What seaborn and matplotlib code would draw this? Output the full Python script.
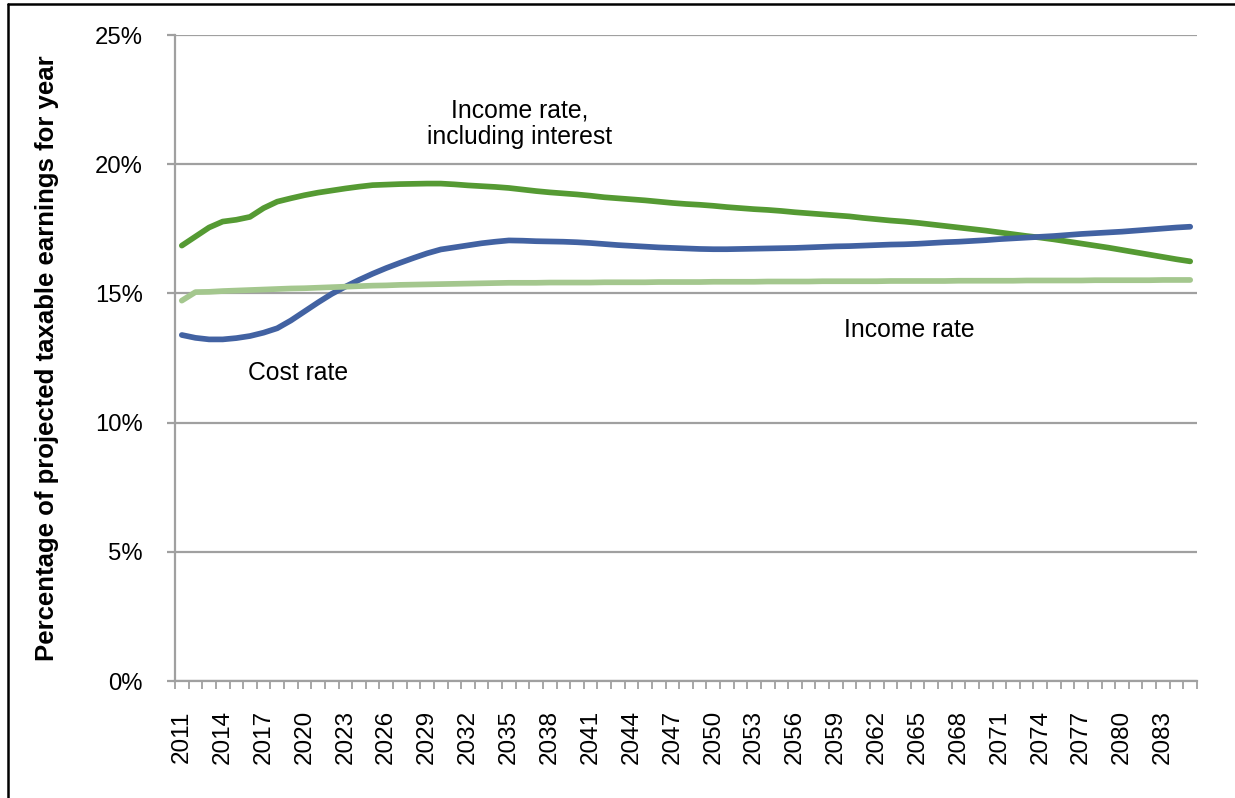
import matplotlib
matplotlib.use("Agg")
import matplotlib.pyplot as plt
from matplotlib.lines import Line2D
from matplotlib.ticker import FixedLocator, FuncFormatter
import seaborn as sns
import pandas as pd

years = list(range(2011, 2086))

income_incl_interest = [
    16.85, 17.20, 17.55, 17.78, 17.85, 17.96, 18.30, 18.55, 18.68, 18.80,
    18.90, 18.98, 19.06, 19.13, 19.19, 19.21, 19.23, 19.24, 19.25, 19.25,
    19.22, 19.18, 19.15, 19.12, 19.08, 19.02, 18.96, 18.91, 18.87, 18.83,
    18.78, 18.72, 18.68, 18.64, 18.60, 18.55, 18.50, 18.46, 18.43, 18.39,
    18.34, 18.30, 18.26, 18.23, 18.19, 18.14, 18.10, 18.06, 18.02, 17.98,
    17.92, 17.87, 17.82, 17.78, 17.73, 17.67, 17.61, 17.55, 17.49, 17.43,
    17.36, 17.29, 17.22, 17.16, 17.09, 17.01, 16.93, 16.85, 16.77, 16.68,
    16.59, 16.50, 16.41, 16.32, 16.24,
]

cost_rate = [
    13.39, 13.28, 13.22, 13.22, 13.27, 13.35, 13.48, 13.65, 13.95, 14.30,
    14.65, 14.98, 15.26, 15.52, 15.76, 15.98, 16.18, 16.37, 16.55, 16.70,
    16.78, 16.86, 16.94, 17.00, 17.05, 17.04, 17.02, 17.01, 17.00, 16.98,
    16.95, 16.91, 16.87, 16.84, 16.81, 16.78, 16.76, 16.74, 16.72, 16.71,
    16.71, 16.72, 16.73, 16.74, 16.75, 16.76, 16.78, 16.80, 16.82, 16.83,
    16.85, 16.87, 16.89, 16.90, 16.92, 16.95, 16.98, 17.00, 17.03, 17.06,
    17.10, 17.13, 17.16, 17.19, 17.22, 17.26, 17.30, 17.33, 17.36, 17.39,
    17.43, 17.47, 17.51, 17.55, 17.58,
]

income_rate = [
    14.72, 15.05, 15.06, 15.09, 15.11, 15.13, 15.15, 15.17, 15.19, 15.20,
    15.22, 15.24, 15.26, 15.28, 15.30, 15.31, 15.33, 15.34, 15.35, 15.36,
    15.37, 15.38, 15.39, 15.40, 15.41, 15.41, 15.41, 15.42, 15.42, 15.42,
    15.42, 15.43, 15.43, 15.43, 15.43, 15.44, 15.44, 15.44, 15.44, 15.45,
    15.45, 15.45, 15.45, 15.46, 15.46, 15.46, 15.46, 15.47, 15.47, 15.47,
    15.47, 15.47, 15.48, 15.48, 15.48, 15.48, 15.48, 15.49, 15.49, 15.49,
    15.49, 15.49, 15.50, 15.50, 15.50, 15.50, 15.50, 15.51, 15.51, 15.51,
    15.51, 15.51, 15.52, 15.52, 15.52,
]

series_names = ["Income rate, including interest", "Cost rate", "Income rate"]
series_colors = ["#559A33", "#4262A2", "#A4C78E"]

label_years = list(range(2011, 2086, 3))
y_ticks = [0, 5, 10, 15, 20, 25]

df = pd.DataFrame({
    "year": years * 3,
    "value": income_incl_interest + cost_rate + income_rate,
    "series": [series_names[0]] * len(years) + [series_names[1]] * len(years) + [series_names[2]] * len(years),
})

sns.set_theme(style="white")
plt.rcParams["font.family"] = ["Liberation Sans", "DejaVu Sans"]

fig = plt.figure(figsize=(12.35, 7.98), dpi=100)
ax = fig.add_axes([175 / 1235, 1 - 681 / 798, (1197 - 175) / 1235, (681 - 35) / 798])

sns.lineplot(data=df, x="year", y="value", hue="series", hue_order=series_names,
             palette=series_colors, linewidth=4.1, ax=ax, legend=False,
             solid_capstyle="round")

ax.set_xlim(2010.5, 2085.5)
ax.set_ylim(0, 25)

grid_color = "#A0A0A0"
ax.set_yticks(y_ticks)
ax.yaxis.set_major_formatter(FuncFormatter(lambda v, p: f"{int(v)}%"))
ax.yaxis.grid(True, color=grid_color, linewidth=1.6)
ax.xaxis.grid(False)
ax.set_axisbelow(True)

ax.xaxis.set_major_locator(FixedLocator(label_years))
ax.xaxis.set_minor_locator(FixedLocator([y - 0.5 for y in years] + [years[-1] + 0.5]))
ax.set_xticklabels([str(y) for y in label_years], rotation=90, va="top", ha="center")

ax.tick_params(axis="x", which="major", length=0, pad=21, labelsize=17.5, labelcolor="black")
ax.tick_params(axis="x", which="minor", bottom=True, length=6, width=1.3, color=grid_color, direction="out")
ax.tick_params(axis="y", which="major", left=True, length=6, width=1.6, color=grid_color,
               pad=17, labelsize=17.2, labelcolor="black", direction="out")

for side in ["top", "right"]:
    ax.spines[side].set_visible(False)
for side in ["left", "bottom"]:
    ax.spines[side].set_color(grid_color)
    ax.spines[side].set_linewidth(1.6)

ax.set_xlabel("")
ax.set_ylabel("Percentage of projected taxable earnings for year", fontsize=18.5,
              fontweight="bold", color="black", labelpad=26)

ax.text(2035.8, 21.56, "Income rate,\nincluding interest", ha="center", va="center",
        fontsize=17.8, color="black", linespacing=1.15)
ax.text(2019.5, 11.92, "Cost rate", ha="center", va="center", fontsize=17.8, color="black")
ax.text(2064.4, 13.58, "Income rate", ha="center", va="center", fontsize=17.8, color="black")

fig.add_artist(Line2D([7.5 / 1235, 7.5 / 1235], [0, 1 - 3.5 / 798], transform=fig.transFigure,
                      color="black", linewidth=1.8))
fig.add_artist(Line2D([7.5 / 1235, 1.0], [1 - 3.5 / 798, 1 - 3.5 / 798], transform=fig.transFigure,
                      color="black", linewidth=1.8))

fig.savefig("out.png", dpi=100, facecolor="white")
